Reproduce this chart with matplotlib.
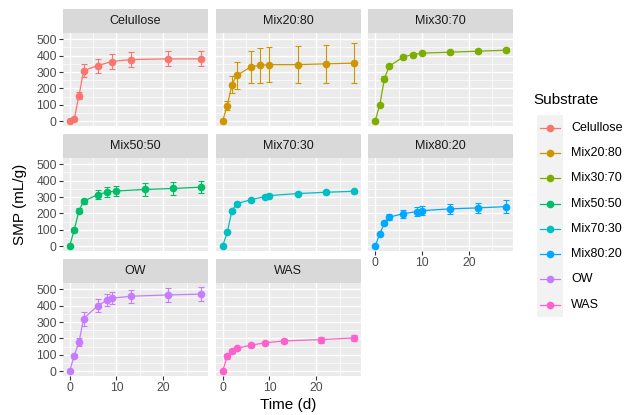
import matplotlib

matplotlib.use("Agg")
import matplotlib.pyplot as plt
import numpy as np

plt.rcParams["font.family"] = ["Liberation Sans", "DejaVu Sans"]

# substrates in facet order
substrates = ["Celullose", "Mix20:80", "Mix30:70", "Mix50:50",
              "Mix70:30", "Mix80:20", "OW", "WAS"]
colors = ["#F8766D", "#CD9600", "#7CAE00", "#00BE67",
          "#00BFC4", "#00A9FF", "#C77CFF", "#FF61CC"]

# time (d), mean SMP (mL/g), error (mL/g)
days_celullose = [0, 1, 2, 3, 6, 9, 13, 21, 28]
smp_celullose = [0, 14, 156, 309, 339, 364, 376, 380, 380]
err_celullose = [3, 5, 20, 38, 43, 45, 43, 46, 46]

days_mix2080 = [0, 1, 2, 3, 6, 8, 10, 16, 22, 28]
smp_mix2080 = [0, 96, 224, 279, 331, 341, 345, 345, 350, 354]
err_mix2080 = [2, 25, 50, 84, 100, 105, 108, 112, 116, 120]

days_mix3070 = [0, 1, 2, 3, 6, 8, 10, 16, 22, 28]
smp_mix3070 = [0, 100, 260, 335, 392, 406, 415, 421, 427, 433]
err_mix3070 = [2, 8, 15, 8, 10, 8, 8, 10, 10, 12]

days_mix5050 = [0, 1, 2, 3, 6, 8, 10, 16, 22, 28]
smp_mix5050 = [0, 100, 217, 274, 315, 329, 337, 346, 352, 360]
err_mix5050 = [2, 12, 15, 15, 30, 30, 30, 38, 38, 38]

days_mix7030 = [0, 1, 2, 3, 6, 9, 10, 16, 22, 28]
smp_mix7030 = [0, 85, 217, 260, 283, 303, 309, 321, 329, 335]
err_mix7030 = [2, 5, 8, 8, 8, 8, 8, 8, 8, 8]

days_mix8020 = [0, 1, 2, 3, 6, 9, 10, 16, 22, 28]
smp_mix8020 = [0, 75, 142, 177, 199, 211, 217, 228, 234, 242]
err_mix8020 = [2, 8, 15, 18, 25, 28, 28, 30, 30, 38]

days_ow = [0, 1, 2, 3, 6, 8, 9, 13, 21, 28]
smp_ow = [0, 96, 177, 321, 400, 433, 445, 457, 465, 470]
err_ow = [2, 10, 25, 43, 38, 37, 37, 40, 43, 42]

days_was = [0, 1, 2, 3, 6, 9, 13, 21, 28]
smp_was = [0, 91, 122, 140, 159, 173, 185, 193, 203]
err_was = [2, 15, 12, 10, 10, 10, 12, 18, 20]

series = [
    (days_celullose, smp_celullose, err_celullose),
    (days_mix2080, smp_mix2080, err_mix2080),
    (days_mix3070, smp_mix3070, err_mix3070),
    (days_mix5050, smp_mix5050, err_mix5050),
    (days_mix7030, smp_mix7030, err_mix7030),
    (days_mix8020, smp_mix8020, err_mix8020),
    (days_ow, smp_ow, err_ow),
    (days_was, smp_was, err_was),
]

W, H = 636, 415
fig = plt.figure(figsize=(W / 100, H / 100), dpi=100)


def px_axes(x0, y0, w, h):
    return fig.add_axes([x0 / W, 1 - (y0 + h) / H, w / W, h / H])


# shared (fixed) scales, ggplot-style 5% expansion
all_x = np.concatenate([np.asarray(s[0], float) for s in series])
lo_y = min(np.min(np.subtract(s[1], s[2])) for s in series)
hi_y = max(np.max(np.add(s[1], s[2])) for s in series)
xpad = 0.05 * (all_x.max() - all_x.min())
ypad = 0.05 * (hi_y - lo_y)
xlim = (all_x.min() - xpad, all_x.max() + xpad)
ylim = (lo_y - ypad, hi_y + ypad)

col_x = [63, 216, 368.5]
row_y = [9, 134, 259]
panel_w, panel_h, strip_h = 144.5, 93, 24

for i, (name, col, (d, v, e)) in enumerate(zip(substrates, colors, series)):
    r, c = divmod(i, 3)
    x0, y0 = col_x[c], row_y[r]

    strip = px_axes(x0, y0, panel_w, strip_h)
    strip.set_facecolor("#D9D9D9")
    strip.set_xticks([])
    strip.set_yticks([])
    for sp in strip.spines.values():
        sp.set_visible(False)
    strip.text(0.5, 0.5, name, ha="center", va="center",
               fontsize=9, color="#1A1A1A", transform=strip.transAxes)

    ax = px_axes(x0, y0 + strip_h, panel_w, panel_h)
    ax.set_facecolor("#EBEBEB")
    for sp in ax.spines.values():
        sp.set_visible(False)
    ax.set_xlim(*xlim)
    ax.set_ylim(*ylim)
    ax.set_xticks([0, 10, 20])
    ax.set_xticks([5, 15, 25], minor=True)
    ax.set_yticks([0, 100, 200, 300, 400, 500])
    ax.set_yticks([50, 150, 250, 350, 450], minor=True)
    ax.grid(True, which="major", color="white", lw=1.0)
    ax.grid(True, which="minor", color="white", lw=0.5)
    ax.set_axisbelow(True)
    ax.tick_params(which="minor", length=0)
    ax.tick_params(which="major", length=3, width=0.8, color="#333333",
                   labelsize=8.8, labelcolor="#4D4D4D", pad=1.5)

    show_y = c == 0
    show_x = (r == 2) or (r == 1 and c == 2)
    if not show_y:
        ax.tick_params(axis="y", length=0, labelleft=False)
    if not show_x:
        ax.tick_params(axis="x", length=0, labelbottom=False)

    ax.errorbar(d, v, yerr=e, color=col, lw=0.9, elinewidth=0.8,
                capsize=2.3, capthick=0.8, marker="o", markersize=4.5,
                zorder=3)

fig.text(20 / W, 1 - 204.5 / H, "SMP (mL/g)", rotation=90,
         ha="center", va="center", fontsize=11)
fig.text(288 / W, 1 - 405 / H, "Time (d)", ha="center", va="center",
         fontsize=11)

# legend
fig.text(533 / W, 1 - 100 / H, "Substrate", ha="left", va="center",
         fontsize=11)
key_top, key_h = 115, 25.3
lg = px_axes(537, key_top, 26, key_h * len(substrates))
lg.set_facecolor("#F2F2F2")
lg.set_xlim(0, 1)
lg.set_ylim(len(substrates), 0)
lg.set_xticks([])
lg.set_yticks([])
for sp in lg.spines.values():
    sp.set_visible(False)
for k, (name, col) in enumerate(zip(substrates, colors)):
    lg.plot([0.12, 0.88], [k + 0.5, k + 0.5], color=col, lw=0.9)
    lg.plot([0.5], [k + 0.5], marker="o", color=col, markersize=4.5)
    fig.text(571 / W, 1 - (key_top + key_h * (k + 0.5)) / H, name,
             ha="left", va="center", fontsize=9)

fig.savefig("out.png", dpi=100)
